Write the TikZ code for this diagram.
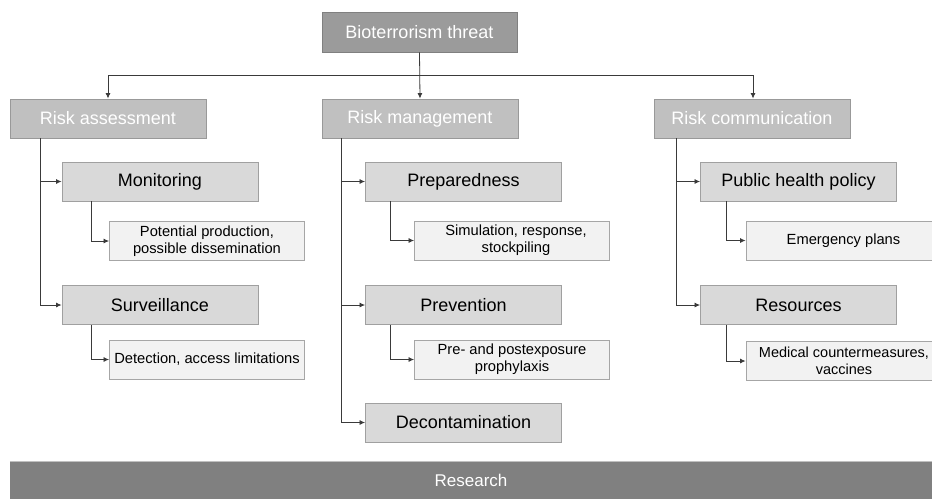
\documentclass[tikz,border=0pt]{standalone}
\usepackage{fontspec}
\setmainfont{Liberation Sans}
\usetikzlibrary{arrows.meta}
\definecolor{topfill}{HTML}{9B9B9B}
\definecolor{topdraw}{HTML}{808080}
\definecolor{lonefill}{HTML}{C0C0C0}
\definecolor{lonedraw}{HTML}{999999}
\definecolor{ltwofill}{HTML}{D9D9D9}
\definecolor{ltwodraw}{HTML}{A0A0A0}
\definecolor{lthreefill}{HTML}{F2F2F2}
\definecolor{lthreedraw}{HTML}{A6A6A6}
\definecolor{resfill}{HTML}{808080}
\definecolor{conn}{HTML}{3A3A3A}
\tikzset{
  basebox/.style={rectangle, inner sep=0pt, align=center, line width=0.9pt},
  topbox/.style={basebox, fill=topfill, draw=topdraw, text=white, minimum width=195pt, minimum height=40pt, font=\fontsize{18}{21}\selectfont},
  lonebox/.style={basebox, fill=lonefill, draw=lonedraw, text=white, minimum width=196pt, minimum height=39pt, font=\fontsize{18}{21}\selectfont},
  ltwobox/.style={basebox, fill=ltwofill, draw=ltwodraw, text=black, minimum width=196pt, minimum height=39pt, font=\fontsize{18}{21}\selectfont},
  lthreebox/.style={basebox, fill=lthreefill, draw=lthreedraw, text=black, minimum width=195pt, minimum height=39pt, font=\fontsize{14.7}{17}\selectfont},
  resbox/.style={rectangle, inner sep=0pt, fill=resfill, text=white, minimum width=922pt, minimum height=37pt, font=\fontsize{17}{20}\selectfont},
  arr/.style={draw=conn, line width=0.8pt, -{Latex[length=5.5pt,width=5pt]}},
}
\begin{document}
\begin{tikzpicture}[x=1pt,y=-1pt]
\useasboundingbox (0,0) rectangle (932,499);
% top
\node[topbox] (top) at (419.5,32) {Bioterrorism threat};
% level 1
\node[lonebox] (ra) at (108,118.5) {Risk assessment};
\node[lonebox] (rm) at (420,118.5) {Risk management};
\node[lonebox] (rc) at (752,118.5) {Risk communication};
% level 2 and 3: assessment
\node[ltwobox] (mon) at (160,181.5) {Monitoring};
\node[lthreebox] (pot) at (207,241) {Potential production,\\possible dissemination};
\node[ltwobox] (sur) at (160,305) {Surveillance};
\node[lthreebox] (det) at (207,359.5) {Detection, access limitations};
% management
\node[ltwobox] (prep) at (463.5,181.5) {Preparedness};
\node[lthreebox] (sim) at (512,240.5) {\hspace*{8pt}Simulation, response,\\\hspace*{8pt}stockpiling};
\node[ltwobox] (prev) at (463.5,305) {Prevention};
\node[lthreebox] (pre) at (512,359.5) {Pre- and postexposure\\prophylaxis};
\node[ltwobox] (dec) at (463.5,422.5) {Decontamination};
% communication
\node[ltwobox] (php) at (798.5,181.5) {Public health policy};
\node[lthreebox] (emg) at (843.5,240.5) {Emergency plans};
\node[ltwobox] (res) at (798.5,305) {Resources};
\node[lthreebox, font=\fontsize{14.5}{17}\selectfont] (med) at (843.5,361) {\hspace*{1pt}Medical countermeasures,\\\hspace*{1pt}vaccines};
% research bar
\node[resbox] (rsch) at (471,480.5) {Research};
\draw[draw=lonefill, line width=1pt] (rsch.north west) -- (rsch.north east);
% top connectors
\coordinate (bus) at (420,75);
\draw[arr] (top.south) -- (rm.north);
\draw[arr] (bus) -| (ra.north);
\draw[arr] (bus) -| ([xshift=1pt]rc.north);
% assessment branches
\coordinate (ra0) at ([xshift=31pt]ra.south west);
\draw[arr] (ra0) |- (mon.west);
\draw[arr] (ra0) |- (sur.west);
\draw[arr] ([xshift=30pt]mon.south west) |- (pot.west);
\draw[arr] ([xshift=30pt]sur.south west) |- (det.west);
% management branches
\coordinate (rm0) at ([xshift=20pt]rm.south west);
\draw[arr] (rm0) |- (prep.west);
\draw[arr] (rm0) |- (prev.west);
\draw[arr] (rm0) |- (dec.west);
\draw[arr] ([xshift=25pt]prep.south west) |- (sim.west);
\draw[arr] ([xshift=25pt]prev.south west) |- (pre.west);
% communication branches
\coordinate (rc0) at ([xshift=23pt]rc.south west);
\draw[arr] (rc0) |- (php.west);
\draw[arr] (rc0) |- (res.west);
\draw[arr] ([xshift=26pt]php.south west) |- (emg.west);
\draw[arr] ([xshift=26pt]res.south west) |- (med.west);
\end{tikzpicture}
\end{document}
